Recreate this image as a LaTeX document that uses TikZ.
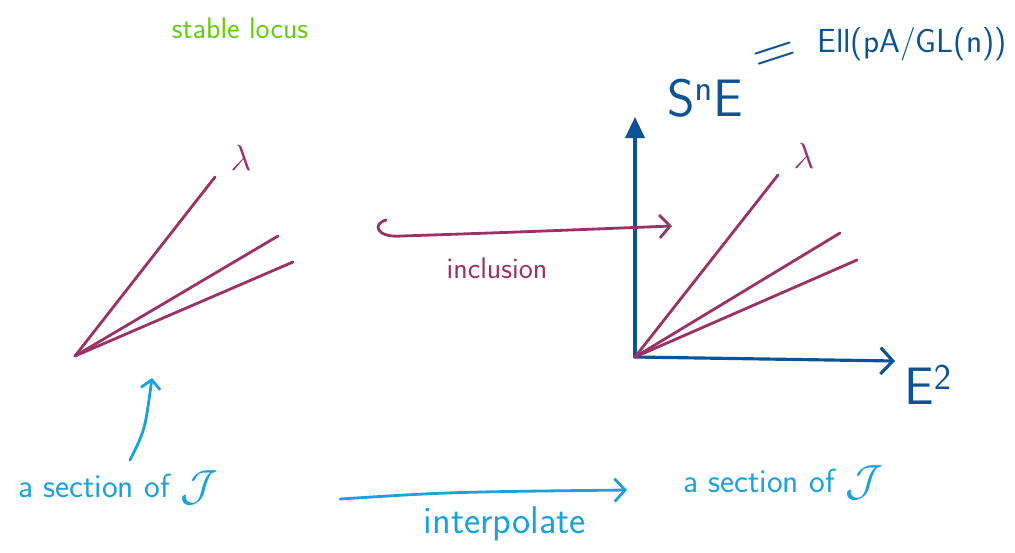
\documentclass[tikz,border=0pt]{standalone}
\usepackage{amsmath,amssymb}
\usepackage{xcolor}
\usetikzlibrary{arrows.meta,positioning}
\definecolor{locusgreen}{HTML}{66CC11}
\definecolor{fanred}{HTML}{993366}
\definecolor{axisblue}{HTML}{0B5394}
\definecolor{noteblue}{HTML}{1BA1DB}

\begin{document}
\begin{tikzpicture}[
  x=0.02cm,y=-0.02cm,
  font=\sffamily\fontsize{17}{20}\selectfont,
  ray/.style={fanred,line width=1.6pt,line cap=round},
  axis/.style={axisblue,line width=1.8pt,line cap=round},
  note/.style={noteblue,line width=1.6pt,line cap=round},
  barb/.style={-{Straight Barb[length=6pt,width=13pt,line width=1.6pt]}},
  lbl/.style={inner sep=1pt},
  big/.style={font=\sffamily\fontsize{30}{34}\selectfont}
]
\useasboundingbox (0,0) rectangle (1015,552);

% stable locus side
\node[lbl,text=locusgreen] (locus) at (240,28) {stable locus};
\coordinate (o1) at (75,356);
\coordinate (a1) at (215,177);
\coordinate (b1) at (278,236);
\coordinate (c1) at (293,262);
\node[lbl,text=fanred,font=\fontsize{22}{24}\selectfont] (lam1) at (241,158) {$\lambda$};
\draw[ray] (o1)--(a1);
\draw[ray] (o1)--(b1);
\draw[ray] (o1)--(c1);

% axes
\coordinate (o2) at (635,357);
\coordinate (ytop) at (635,117);
\coordinate (xend) at (895,361);
\draw[axis,-{Triangle[length=12pt,width=11pt]}] (o2)--(ytop);
\draw[axis,-{Straight Barb[length=7pt,width=15pt,line width=1.8pt]}] (o2)--(xend);
\node[lbl,text=axisblue,big] (sne) at (705,98) {S$^{\mathsf{n}}$E};
\node[lbl,text=axisblue,big] (e2) at (928,385) {E$^{\mathsf{2}}$};
\node[lbl,text=axisblue,rotate=18,font=\sffamily\fontsize{34}{36}\selectfont] (eq) at (776,58) {=};
\node[lbl,text=axisblue,font=\sffamily\fontsize{19}{22}\selectfont] (ell) at (912,44) {Ell(pA/GL(n))};

% fan inside the axes
\coordinate (a2) at (778,175);
\coordinate (b2) at (840,233);
\coordinate (c2) at (857,260);
\node[lbl,text=fanred,font=\fontsize{22}{24}\selectfont] (lam2) at (804,156) {$\lambda$};
\draw[ray] (o2)--(a2);
\draw[ray] (o2)--(b2);
\draw[ray] (o2)--(c2);

% inclusion
\coordinate (hook) at (386,220);
\coordinate (incl) at (672,226);
\draw[ray,barb] (hook) .. controls (372,224) and (376,238) .. (402,236)
  .. controls (520,232) .. (incl);
\node[lbl,text=fanred] (inclusion) at (497,268) {inclusion};

% sections
\node[lbl,text=noteblue,font=\sffamily\fontsize{19}{22}\selectfont] (sec1) at (118,488)
  {a section of \raisebox{-2pt}{\fontsize{26}{28}\selectfont$\mathcal{J}$}};
\node[lbl,text=noteblue,font=\sffamily\fontsize{19}{22}\selectfont] (sec2) at (783,483)
  {a section of \raisebox{-2pt}{\fontsize{26}{28}\selectfont$\mathcal{J}$}};
\coordinate (tip1) at (152,378);
\draw[note,-{Straight Barb[length=5pt,width=11pt,line width=1.6pt]}] (130,460) .. controls (145,430) .. (tip1);
\coordinate (ip1) at (340,499);
\coordinate (ip2) at (627,490);
\draw[note,barb] (ip1) .. controls (450,492) .. (ip2);
\node[lbl,text=noteblue,font=\sffamily\fontsize{22}{24}\selectfont] (interp) at (505,524) {interpolate};
\end{tikzpicture}
\end{document}
